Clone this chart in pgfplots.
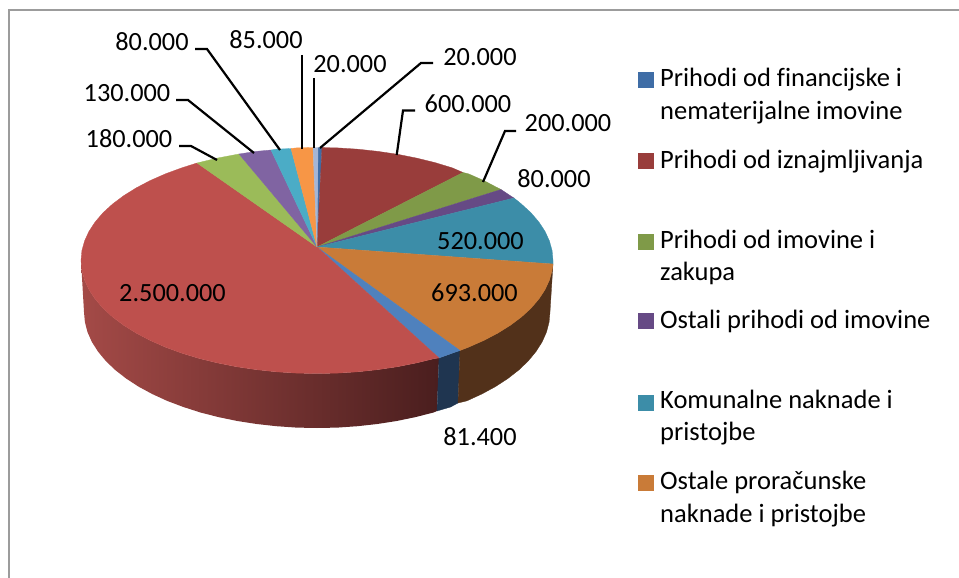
\documentclass[border=0pt]{standalone}
\usepackage{fontspec}
\setmainfont[Ligatures={NoCommon}]{Carlito}
\usepackage{pgfplots}
\pgfplotsset{compat=1.18}
\definecolor{bA}{HTML}{3F6DA6}
\definecolor{rA}{HTML}{993D3B}
\definecolor{gA}{HTML}{7F9A48}
\definecolor{pA}{HTML}{664A85}
\definecolor{tA}{HTML}{3C8DA8}
\definecolor{oA}{HTML}{C97B38}
\definecolor{bB}{HTML}{4F81BD}
\definecolor{rB}{HTML}{BE504D}
\definecolor{gB}{HTML}{9BBB59}
\definecolor{pB}{HTML}{8064A2}
\definecolor{tB}{HTML}{4BACC6}
\definecolor{oB}{HTML}{F79646}
\definecolor{lB}{HTML}{A5B6D6}
\definecolor{wO}{HTML}{52311A}
\definecolor{wB}{HTML}{1F3550}
\definecolor{wRl}{HTML}{A44A47}
\definecolor{wRr}{HTML}{4A1E1E}
\definecolor{framec}{HTML}{9C9C9C}
\tikzset{
  slice/.style={fill=#1,draw=#1,line width=0.3pt},
  leader/.style={black,line width=2.2pt},
  lab/.style={anchor=base,inner sep=0pt,font=\fontsize{26.3}{30}\selectfont,text=black},
  leg/.style={anchor=base west,inner sep=0pt,font=\fontsize{26.5}{30}\selectfont,text=black},
  key/.style={only marks,mark=square*,mark size=7.5pt,color=#1,mark options={fill=#1,draw=#1,line width=0pt}}
}
\begin{document}
\begin{tikzpicture}
\begin{axis}[
  width=959pt,height=578pt,scale only axis,
  xmin=0,xmax=959,ymin=0,ymax=578,y dir=reverse,
  hide axis,clip=true]
\path (axis cs:0,0) rectangle (axis cs:959,578);
% frame
\addplot[framec,line width=2.5pt] coordinates {(959,10) (9,10) (9,578)};
% walls
\addplot[draw=none,left color=wRl,right color=wRr] coordinates {
(439,358)(435,358.4)(416.7,362.9)(397.7,366.7)(378.1,369.6)(358,371.8)(337.6,373.1)(317,373.5)
(296.4,373.1)(276,371.8)(255.9,369.6)(236.3,366.7)(217.3,362.9)(199,358.4)(181.6,353.1)(165.3,347.1)
(150.1,340.4)(136.2,333.1)(123.7,325.3)(112.6,317)(103.1,308.3)(95.2,299.1)(89,289.7)(84.6,280.1)(81.9,270.4)(81,260.5)
(84,312)(84.9,322.1)(87.5,332.1)(91.9,342)(98.1,351.7)(105.8,361)(115.2,370)(126.1,378.5)(138.5,386.6)(152.2,394)
(167.2,400.9)(183.4,407)(200.5,412.5)(218.5,417.1)(237.3,421)(256.7,424)(276.5,426.2)(296.7,427.6)(317,428)
(337.3,427.6)(357.5,426.2)(377.3,424)(396.7,421)(415.5,417.1)(433.5,412.5)(437,411)(439,358)};
\addplot[slice=wB] coordinates {(439,358)(460,350.5)(458,403)(450.6,407)(437,411)(439,358)};
\addplot[slice=wO] coordinates {
(460,350.5)(468.7,347.1)(483.9,340.4)(497.8,333.1)(510.3,325.3)(521.4,317)(530.9,308.3)(538.8,299.1)(545,289.7)(549.4,280.1)(552.1,270.4)(553,264)
(550,312)(549.1,322.1)(546.5,332.1)(542.1,342)(535.9,351.7)(528.2,361)(518.8,370)(507.9,378.5)(495.5,386.6)(481.8,394)(466.8,400.9)(458,403)(460,350.5)};
% top faces, clockwise from the top
\addplot[slice=bA] coordinates {(317,247)(318,147.5)(322,147.6)(317,247)};
\addplot[slice=rA] coordinates {(317,247)(322,147.6)(337.6,147.9)(358,149.2)(378.1,151.4)(397.7,154.3)(416.7,158.1)(435,162.6)(452.4,167.9)(463,172.5)(317,247)};
\addplot[slice=gA] coordinates {(317,247)(463,172.5)(468.7,173.9)(483.9,180.6)(497.8,187.9)(501,189.5)(317,247)};
\addplot[slice=pA] coordinates {(317,247)(501,189.5)(510.3,195.7)(514,198)(317,247)};
\addplot[slice=tA] coordinates {(317,247)(514,198)(521.4,204)(530.9,212.7)(538.8,221.9)(545,231.3)(549.4,240.9)(552.1,250.6)(553,260.5)(553,264)(317,247)};
\addplot[slice=oA] coordinates {(317,247)(553,264)(552.1,270.4)(549.4,280.1)(545,289.7)(538.8,299.1)(530.9,308.3)(521.4,317)(510.3,325.3)(497.8,333.1)(483.9,340.4)(468.7,347.1)(460,350.5)(317,247)};
\addplot[slice=bB] coordinates {(317,247)(460,350.5)(452.4,353.1)(439,358)(317,247)};
\addplot[slice=rB] coordinates {(317,247)(439,358)(435,358.4)(416.7,362.9)(397.7,366.7)(378.1,369.6)(358,371.8)(337.6,373.1)(317,373.5)
(296.4,373.1)(276,371.8)(255.9,369.6)(236.3,366.7)(217.3,362.9)(199,358.4)(181.6,353.1)(165.3,347.1)
(150.1,340.4)(136.2,333.1)(123.7,325.3)(112.6,317)(103.1,308.3)(95.2,299.1)(89,289.7)(84.6,280.1)(81.9,270.4)(81,260.5)
(81.9,250.6)(84.6,240.9)(89,231.3)(95.2,221.9)(103.1,212.7)(112.6,204)(123.7,195.7)(136.2,187.9)(150.1,180.6)(165.3,173.9)(181.6,167.9)(197,163)(317,247)};
\addplot[slice=gB] coordinates {(317,247)(197,163)(217.3,158.1)(239,154)(317,247)};
\addplot[slice=pB] coordinates {(317,247)(239,154)(255.9,151.4)(271,150)(317,247)};
\addplot[slice=tB] coordinates {(317,247)(271,150)(276,149.2)(291,148.5)(317,247)};
\addplot[slice=oB] coordinates {(317,247)(291,148.5)(296.4,147.9)(313,147.5)(317,247)};
\addplot[slice=lB] coordinates {(317,247)(313,147.5)(318,147.5)(317,247)};
% leader lines
\addplot[leader] coordinates {(301.7,55)(301.7,149)};
\addplot[leader] coordinates {(314.3,78)(314.3,148)};
\addplot[leader] coordinates {(320,148)(421,63)(433,63)};
\addplot[leader] coordinates {(396.7,155)(403,110.5)(415,110.5)};
\addplot[leader] coordinates {(483,182)(505,131)(516,131)};
\addplot[leader] coordinates {(195,49)(207,49)(280,150)};
\addplot[leader] coordinates {(176,100)(188,100)(254,153)};
\addplot[leader] coordinates {(179,146)(191,146)(217,160)};
% data labels
\node[lab] at (axis cs:152,51) {80.000};
\node[lab] at (axis cs:266,49) {85.000};
\node[lab] at (axis cs:127,101) {130.000};
\node[lab] at (axis cs:129,147) {180.000};
\node[lab] at (axis cs:350,73) {20.000};
\node[lab] at (axis cs:480,66) {20.000};
\node[lab] at (axis cs:468,113) {600.000};
\node[lab] at (axis cs:568,131) {200.000};
\node[lab] at (axis cs:554,187) {80.000};
\node[lab] at (axis cs:480.5,249) {520.000};
\node[lab] at (axis cs:474.5,301) {693.000};
\node[lab] at (axis cs:480,445) {81.400};
\node[lab] at (axis cs:172.5,301) {2.500.000};
% legend
\addplot[key=bA] coordinates {(645.5,80.5)};
\addplot[key=rA] coordinates {(645.5,160.5)};
\addplot[key=gA] coordinates {(645.5,241.5)};
\addplot[key=pA] coordinates {(645.5,320.5)};
\addplot[key=tA] coordinates {(645.5,402.5)};
\addplot[key=oA] coordinates {(645.5,482.5)};
\node[leg] at (axis cs:660,87) {Prihodi od financijske i};
\node[leg] at (axis cs:660,120) {nematerijalne imovine};
\node[leg] at (axis cs:660,168) {Prihodi od iznajmljivanja};
\node[leg] at (axis cs:660,248) {Prihodi od imovine i};
\node[leg] at (axis cs:660,280) {zakupa};
\node[leg] at (axis cs:660,328) {Ostali prihodi od imovine};
\node[leg] at (axis cs:660,408) {Komunalne naknade i};
\node[leg] at (axis cs:660,440) {pristojbe};
\node[leg] at (axis cs:660,489) {Ostale proračunske};
\node[leg] at (axis cs:660,522) {naknade i pristojbe};
\end{axis}
\end{tikzpicture}
\end{document}
